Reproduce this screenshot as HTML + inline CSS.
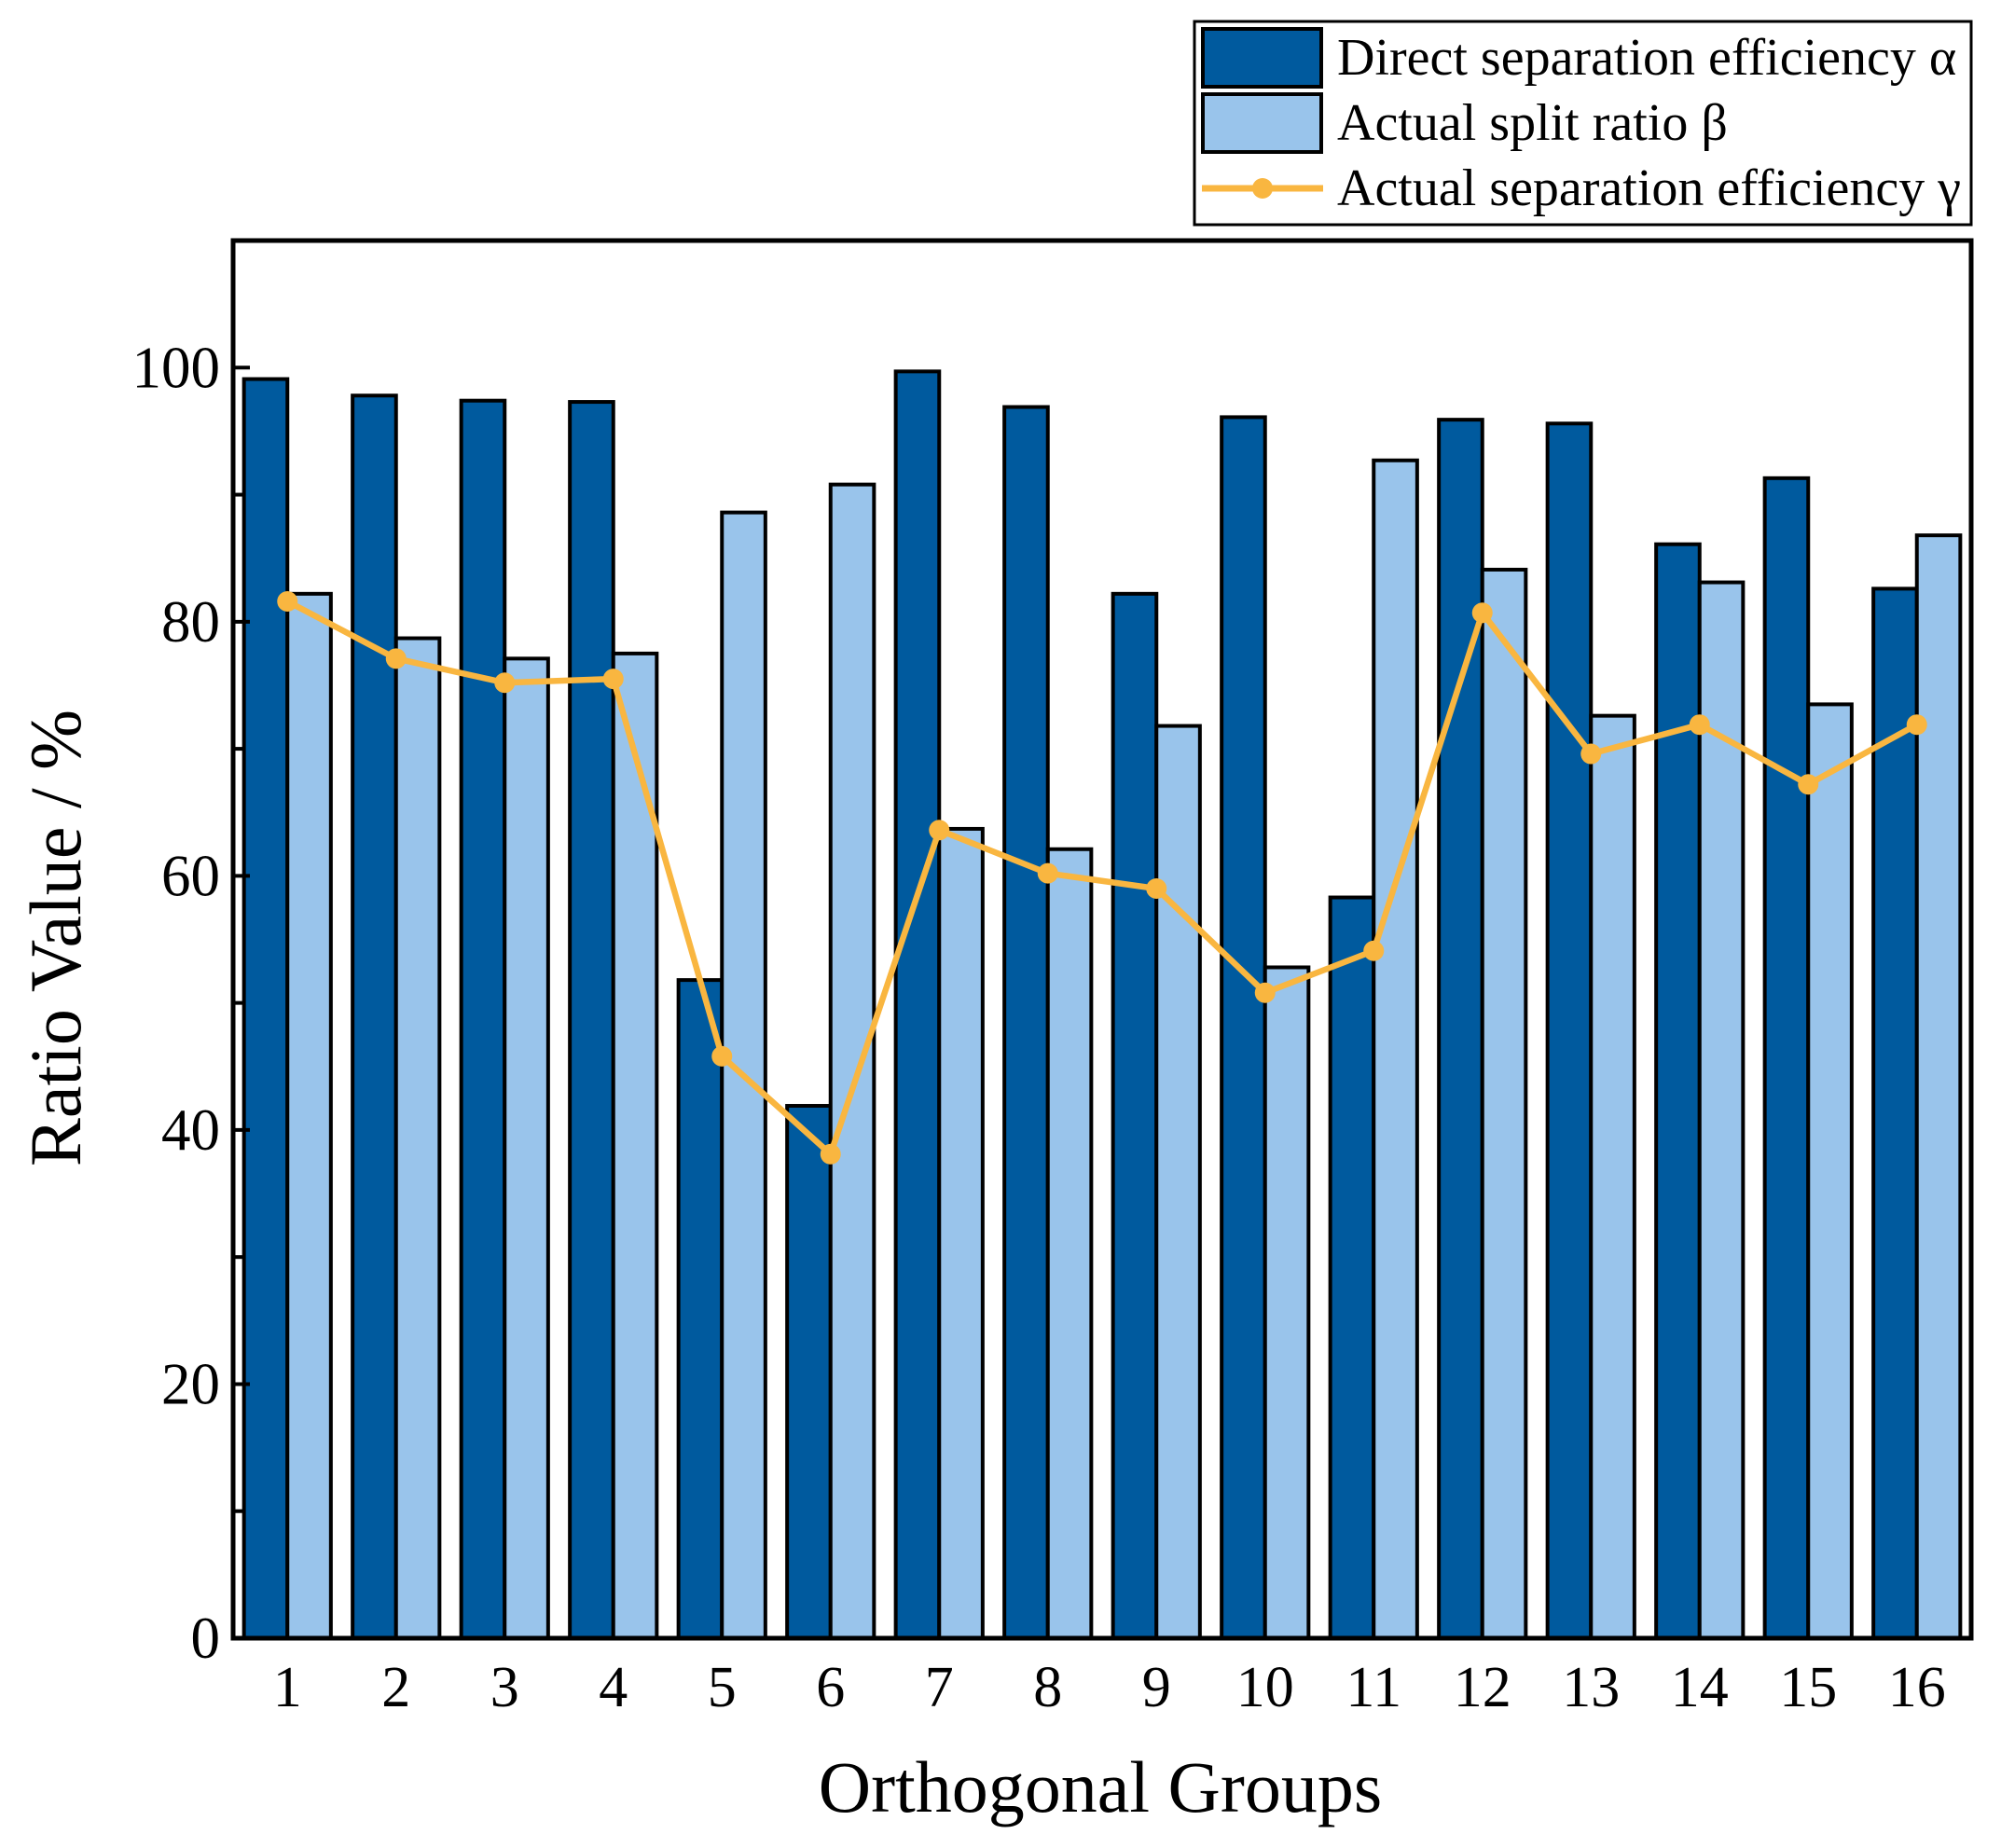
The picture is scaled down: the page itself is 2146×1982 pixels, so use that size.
<!DOCTYPE html>
<html><head><meta charset="utf-8"><style>
html,body{margin:0;padding:0;background:#fff}
svg{display:block}
text{font-family:"Liberation Serif",serif;fill:#000}
</style></head><body>
<svg id="chart" width="2146" height="1982" viewBox="0 0 2146 1982" xmlns="http://www.w3.org/2000/svg">
<g id="bars"></g>
<g id="line"></g>
<rect x="250" y="258" width="1864" height="1499" fill="none" stroke="#000" stroke-width="5"/>
<g id="axes"></g>
<text x="1180" y="1943" font-size="78" text-anchor="middle">Orthogonal Groups</text>
<text transform="translate(86,1006) rotate(-90)" font-size="78" text-anchor="middle">Ratio Value / %</text>
<g>
<rect x="1281" y="23" width="833" height="218" fill="#fff" stroke="#000" stroke-width="3"/>
<rect x="1290" y="31" width="127" height="62" fill="#005A9E" stroke="#000" stroke-width="4"/>
<text x="1434" y="80" font-size="56">Direct separation efficiency α</text>
<rect x="1290" y="101" width="127" height="62" fill="#99C4EB" stroke="#000" stroke-width="4"/>
<text x="1434" y="150" font-size="56">Actual split ratio β</text>
<line x1="1289" y1="202" x2="1419" y2="202" stroke="#F9B640" stroke-width="7"/>
<circle cx="1354" cy="202" r="11" fill="#F9B640"/>
<text x="1434" y="220" font-size="56">Actual separation efficiency γ</text>
</g>
</svg>
<script>
const categories=["1","2","3","4","5","6","7","8","9","10","11","12","13","14","15","16"];
const alphaValues=[99.1,97.8,97.4,97.3,51.8,41.9,99.7,96.9,82.2,96.1,58.3,95.9,95.6,86.1,91.3,82.6];
const betaValues=[82.2,78.7,77.1,77.5,88.6,90.8,63.7,62.1,71.8,52.8,92.7,84.1,72.6,83.1,73.5,86.8];
const gammaValues=[81.6,77.1,75.2,75.5,45.8,38.1,63.6,60.2,59.0,50.8,54.1,80.7,69.6,71.9,67.2,71.9];
const yTicks=[0,20,40,60,80,100];
const yMinor=[10,30,50,70,90];

const NS="http://www.w3.org/2000/svg";
const X0=250,X1=2114,Y0=1757,Y1=258,YMAX=110;
const xs=i=>X0+(i+0.5)*(X1-X0)/categories.length;
const unit=(X1-X0)/categories.length;
const ys=v=>Y0-v*(Y0-Y1)/YMAX;
function mk(t,a,p){const e=document.createElementNS(NS,t);for(const k in a)e.setAttribute(k,a[k]);p.appendChild(e);return e;}
const bars=document.getElementById('bars'),line=document.getElementById('line'),axes=document.getElementById('axes');
const bw=0.4*unit;
categories.forEach((c,i)=>{
  const cx=xs(i);
  const a=mk('rect',{x:cx-bw,y:ys(alphaValues[i]),width:bw,height:Y0-ys(alphaValues[i]),fill:'#005A9E',stroke:'#000','stroke-width':4},bars);
  
  
  const b=mk('rect',{x:cx,y:ys(betaValues[i]),width:bw,height:Y0-ys(betaValues[i]),fill:'#99C4EB',stroke:'#000','stroke-width':4},bars);
  
  
  const t=mk('text',{x:cx,y:1830,'font-size':62,'text-anchor':'middle'},axes);
  t.textContent=c;
  
  
});
const pts=gammaValues.map((v,i)=>xs(i)+','+ys(v)).join(' ');
const pl=mk('polyline',{points:pts,fill:'none',stroke:'#F9B640','stroke-width':6.5,'stroke-linejoin':'round'},line);


gammaValues.forEach((v,i)=>{
  const p=mk('circle',{cx:xs(i),cy:ys(v),r:11,fill:'#F9B640'},line);
  
  
});
yTicks.forEach(v=>{
  const l=mk('line',{x1:X0,x2:X0+18,y1:ys(v),y2:ys(v),stroke:'#000','stroke-width':4},axes);
  
  
  const t=mk('text',{x:236,y:ys(v)+21,'font-size':63,'text-anchor':'end'},axes);
  t.textContent=v;
  
  
});
yMinor.forEach(v=>{
  const l=mk('line',{x1:X0,x2:X0+11,y1:ys(v),y2:ys(v),stroke:'#000','stroke-width':4},axes);
  
  
});
</script>
</body></html>
